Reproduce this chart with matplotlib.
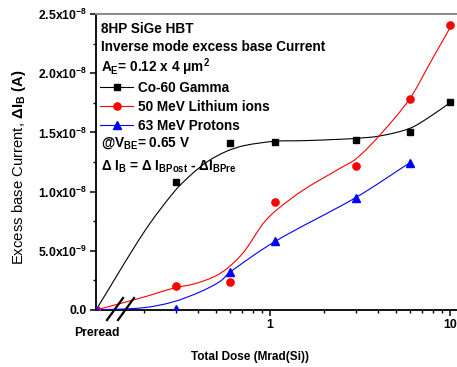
import matplotlib
matplotlib.use("Agg")
import numpy as np
import matplotlib.pyplot as plt
from matplotlib.lines import Line2D
from matplotlib.path import Path
from matplotlib.patches import PathPatch
from matplotlib.ticker import FixedLocator, MultipleLocator, NullFormatter

plt.rcParams['font.family'] = ['Liberation Sans', 'DejaVu Sans']
plt.rcParams['mathtext.fontset'] = 'custom'
plt.rcParams['mathtext.rm'] = 'Liberation Sans'
plt.rcParams['mathtext.bf'] = 'Liberation Sans:bold'
plt.rcParams['mathtext.it'] = 'Liberation Sans:italic'
plt.rcParams['mathtext.default'] = 'bf'

# ---------------- data ----------------
PREREAD_X = 0.108          # position used for the "Preread" dose on the log axis
X_MAX = 10.94

gamma_dose = [PREREAD_X, 0.3, 0.6, 1.07, 3.0, 6.0, 10.0]
gamma_dib = [0.0, 1.08e-8, 1.41e-8, 1.42e-8, 1.44e-8, 1.50e-8, 1.76e-8]

li_dose = [PREREAD_X, 0.3, 0.6, 1.07, 3.0, 6.0, 10.0]
li_dib = [0.0, 0.20e-8, 0.24e-8, 0.915e-8, 1.216e-8, 1.78e-8, 2.41e-8]

p_dose = [PREREAD_X, 0.3, 0.6, 1.07, 3.0, 6.0]
p_dib = [0.0, 0.01e-8, 0.32e-8, 0.58e-8, 0.95e-8, 1.245e-8]

# fitted guide curves
gamma_fit_x = [PREREAD_X, 0.2, 0.293, 0.363, 0.449, 0.567, 0.717, 1.066, 1.525, 2.45, 3.03, 4.08, 6.0, 7.74, 10.2]
gamma_fit_y = [0.0, 0.66e-8, 0.997e-8, 1.140e-8, 1.253e-8, 1.337e-8, 1.388e-8, 1.425e-8, 1.430e-8, 1.442e-8, 1.450e-8, 1.470e-8, 1.535e-8, 1.633e-8, 1.76e-8]

li_fit_x = [PREREAD_X, 0.2, 0.292, 0.378, 0.489, 0.579, 0.717, 0.918, 1.089, 1.532, 2.45, 3.03, 4.08, 6.0, 7.74, 10.2]
li_fit_y = [0.0, 0.11e-8, 0.185e-8, 0.22e-8, 0.281e-8, 0.352e-8, 0.492e-8, 0.732e-8, 0.845e-8, 1.013e-8, 1.197e-8, 1.281e-8, 1.478e-8, 1.788e-8, 2.084e-8, 2.407e-8]

p_fit_x = [PREREAD_X, 0.2, 0.292, 0.412, 0.532, 0.6, 1.07, 3.0, 6.0]
p_fit_y = [0.0, 0.02e-8, 0.07e-8, 0.155e-8, 0.245e-8, 0.32e-8, 0.58e-8, 0.95e-8, 1.245e-8]

series_labels = ["Co-60 Gamma", "50 MeV Lithium ions", "63 MeV Protons"]
series_colors = ["#000000", "#ff0000", "#0000ff"]
series_markers = ["s", "o", "^"]

y_ticks = [0.0, 0.5e-8, 1.0e-8, 1.5e-8, 2.0e-8, 2.5e-8]
y_tick_labels = ["0.0", "5.0x10$^{-9}$", "1.0x10$^{-8}$", "1.5x10$^{-8}$", "2.0x10$^{-8}$", "2.5x10$^{-8}$"]
x_ticks = [1, 10]
x_tick_labels = ["1", "10"]


def smooth_path(xs, ys):
    """Cubic Bezier path (Catmull-Rom control points in log-x space) through the read values."""
    u = np.log10(np.asarray(xs, float))
    v = np.asarray(ys, float)
    n = len(u)
    verts = [(xs[0], ys[0])]
    codes = [Path.MOVETO]
    for i in range(n - 1):
        i0, i3 = max(i - 1, 0), min(i + 2, n - 1)
        h = u[i + 1] - u[i]
        m1 = (v[i + 1] - v[i0]) / (u[i + 1] - u[i0])
        m2 = (v[i3] - v[i]) / (u[i3] - u[i])
        verts += [(10 ** (u[i] + h / 3), v[i] + m1 * h / 3),
                  (10 ** (u[i + 1] - h / 3), v[i + 1] - m2 * h / 3),
                  (xs[i + 1], ys[i + 1])]
        codes += [Path.CURVE4] * 3
    return Path(verts, codes)


# ---------------- figure ----------------
W, H = 457, 367
fig = plt.figure(figsize=(W / 100, H / 100), dpi=100)
ax = fig.add_axes([96 / W, 1 - 310 / H, (W - 96) / W, 296 / H])
ax.set_xscale('log')
ax.set_xlim(PREREAD_X, X_MAX)
ax.set_ylim(0, 2.5e-8)

fits = [(gamma_fit_x, gamma_fit_y), (li_fit_x, li_fit_y), (p_fit_x, p_fit_y)]
pts = [(gamma_dose, gamma_dib), (li_dose, li_dib), (p_dose, p_dib)]
msizes = [4.8, 5.2, 5.6]
for (fx, fy), (px, py), c, m, ms in zip(fits, pts, series_colors, series_markers, msizes):
    ax.add_patch(PathPatch(smooth_path(fx, fy), facecolor='none', edgecolor=c, lw=0.8, zorder=3))
    ax.plot(px, py, ls='none', marker=m, color=c, ms=ms, zorder=4)

# spines
for s in ['left', 'bottom']:
    ax.spines[s].set_linewidth(1.3)
    ax.spines[s].set_color('black')
ax.spines['top'].set_color('#888888')
ax.spines['top'].set_linewidth(1.4)
ax.spines['right'].set_visible(False)

# ticks
ax.yaxis.set_major_locator(FixedLocator(y_ticks))
ax.set_yticklabels(y_tick_labels, fontsize=8.8, fontweight='bold')
ax.yaxis.set_minor_locator(MultipleLocator(0.25e-8))
ax.xaxis.set_major_locator(FixedLocator(x_ticks))
ax.set_xticklabels(x_tick_labels, fontsize=8.8, fontweight='bold')
ax.xaxis.set_minor_locator(FixedLocator([0.2, 0.3, 0.4, 0.5, 0.6, 0.7, 0.8, 0.9, 2, 3, 4, 5, 6, 7, 8, 9]))
ax.xaxis.set_minor_formatter(NullFormatter())
ax.tick_params(which='major', direction='out', length=4.5, width=1.1, pad=2)
ax.tick_params(which='minor', direction='out', length=2.5, width=1.0)
ax.tick_params(top=False, right=False, which='both')

# labels
ax.set_xlabel("Total Dose (Mrad(Si))", fontsize=8.5, fontweight='bold')
ax.xaxis.set_label_coords((250 - 96) / (W - 96), -(357 - 310) / 296)
ax.xaxis.label.set_va('center')
ax.set_ylabel("Excess base Current, $\\Delta I_B\\ (A)$", fontsize=10.7, fontweight='normal')
ax.yaxis.set_label_coords(-(96 - 19) / (W - 96), (310 - 167) / 296)
ax.yaxis.label.set_va('center')

fig.text(97 / W, 1 - 336 / H, "Preread", ha='center', va='baseline', fontsize=8.8, fontweight='bold')

# axis break marks
for x0 in [107, 118]:
    ax.plot([(x0 - 96) / (W - 96), (x0 + 16 - 96) / (W - 96)],
            [(310 - 320) / 296, (310 - 298) / 296],
            transform=ax.transAxes, color='black', lw=1.6, clip_on=False, zorder=6)

# annotations
tx = (101 - 96) / (W - 96)
FS = 9.8
def ann(y_px, s):
    ax.text(tx, (310 - y_px) / 296, s, transform=ax.transAxes, ha='left', va='baseline',
            fontsize=FS, fontweight='bold')
ann(33.3, "8HP SiGe HBT")
ann(50.7, "Inverse mode excess base Current")
ann(71.7, "A$_{E}$= 0.12 x 4 μm$^{2}$")
ann(146.7, "@V$_{BE}$= 0.65 V")
ann(170.5, "Δ I$_{B}$ = Δ I$_{BPost}$ - ΔI$_{BPre}$")

handles = [Line2D([], [], color=c, lw=0.8, marker=m, ms=ms)
           for c, m, ms in zip(series_colors, series_markers, msizes)]
leg = ax.legend(handles, series_labels, loc='upper left',
                bbox_to_anchor=((100 - 96) / (W - 96), (310 - 81) / 296),
                frameon=False, borderpad=0, borderaxespad=0, handlelength=2.45,
                handletextpad=0.35, labelspacing=0.36,
                prop={'size': FS, 'weight': 'bold'})

fig.savefig("out.png", dpi=100)
